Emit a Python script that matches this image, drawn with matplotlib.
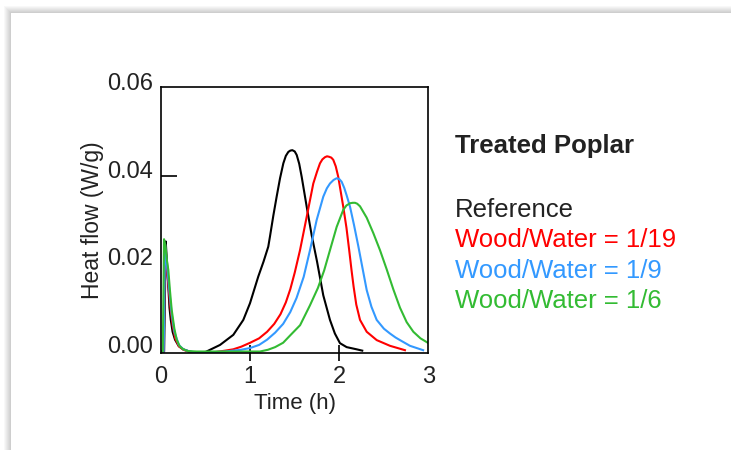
import numpy as np
import matplotlib
matplotlib.use("Agg")
import matplotlib.pyplot as plt
from matplotlib.transforms import ScaledTranslation

plt.rcParams['font.family'] = ['Liberation Sans', 'DejaVu Sans']

# data (time in h, heat flow in W/g)
ref_t = [0.0, 0.035, 0.053, 0.068, 0.082, 0.095, 0.109, 0.13, 0.157, 0.2, 0.25, 0.32,
         0.40, 0.50, 0.662, 0.811, 0.923, 0.998, 1.091, 1.15, 1.203, 1.222, 1.26, 1.297,
         1.335, 1.372, 1.40, 1.428, 1.45, 1.473, 1.50, 1.522, 1.55, 1.578, 1.634, 1.69,
         1.75, 1.82, 1.895, 1.95, 2.007, 2.082, 2.194, 2.257]
ref_q = [0.0, 0.0, 0.0251, 0.020, 0.0148, 0.010, 0.0073, 0.0045, 0.0027, 0.0012, 0.0005, 0.0,
         -0.0003, -0.0001, 0.0015, 0.0038, 0.0072, 0.011, 0.0171, 0.0205, 0.0239, 0.0262,
         0.031, 0.0353, 0.0395, 0.0429, 0.0446, 0.0455, 0.0458, 0.0459, 0.0456, 0.0448,
         0.0428, 0.0398, 0.033, 0.0265, 0.0205, 0.0128, 0.0072, 0.0041, 0.0019,
         0.001, 0.0005, 0.0002]

r19_t = [0.0, 0.03, 0.045, 0.06, 0.08, 0.1, 0.13, 0.16, 0.2, 0.25, 0.32, 0.40, 0.50, 0.62,
         0.72, 0.81, 0.9, 1.0, 1.1, 1.19, 1.27, 1.34, 1.40, 1.45, 1.50, 1.559, 1.634, 1.708,
         1.75, 1.783, 1.81, 1.839, 1.862, 1.884, 1.91, 1.932, 1.96, 1.988, 2.044, 2.08,
         2.11, 2.137, 2.16, 2.19, 2.232, 2.307, 2.419, 2.568, 2.736]
r19_q = [0.0, 0.0, 0.0245, 0.020, 0.016, 0.011, 0.006, 0.003, 0.0012, 0.0004, -0.0001,
         -0.0003, -0.0003, -0.0001, 0.0002, 0.0005, 0.0011, 0.002, 0.003, 0.0045, 0.0063,
         0.0085, 0.0112, 0.0142, 0.018, 0.0231, 0.0307, 0.0383, 0.041, 0.0429, 0.0438,
         0.0443, 0.0445, 0.0444, 0.0442, 0.0437, 0.0422, 0.0398, 0.033, 0.0282,
         0.0232, 0.0185, 0.0148, 0.0107, 0.0072, 0.0045, 0.0026, 0.0013, 0.0003]

r9_t = [0.0, 0.03, 0.045, 0.06, 0.08, 0.1, 0.12, 0.15, 0.2, 0.25, 0.32, 0.40, 0.50, 0.62,
        0.72, 0.81, 0.9, 1.0, 1.1, 1.19, 1.28, 1.37, 1.45, 1.52, 1.60, 1.671, 1.746, 1.82,
        1.86, 1.895, 1.935, 1.97, 2.0, 2.026, 2.055, 2.082, 2.12, 2.165, 2.213, 2.26,
        2.307, 2.36, 2.419, 2.5, 2.568, 2.63, 2.68, 2.792, 2.94]
r9_q = [0.0, 0.0, 0.0245, 0.021, 0.017, 0.0125, 0.0085, 0.0045, 0.0015, 0.0005, 0.0,
        -0.0002, -0.0002, -0.0001, 0.0, 0.0002, 0.0004, 0.0008, 0.0015, 0.0027, 0.0043,
        0.0063, 0.009, 0.0122, 0.017, 0.0231, 0.030, 0.0353, 0.0372, 0.0383, 0.0391,
        0.0395, 0.0393, 0.0387, 0.0373, 0.0356, 0.033, 0.0288, 0.024, 0.019, 0.014,
        0.0102, 0.0072, 0.0052, 0.0041, 0.0032, 0.0026, 0.0013, 0.0003]

r6_t = [0.0, 0.02, 0.034, 0.05, 0.065, 0.082, 0.1, 0.12, 0.15, 0.176, 0.21, 0.25, 0.30,
        0.40, 0.55, 0.70, 0.85, 1.0, 1.11, 1.2, 1.28, 1.37, 1.45, 1.56, 1.67, 1.76, 1.83,
        1.895, 1.97, 2.044, 2.08, 2.12, 2.15, 2.176, 2.20, 2.232, 2.307, 2.381, 2.456,
        2.53, 2.605, 2.68, 2.755, 2.83, 2.91, 3.0]
r6_q = [0.0, 0.0, 0.0256, 0.024, 0.021, 0.0186, 0.014, 0.0095, 0.0052, 0.0027, 0.0012,
        0.0005, 0.0001, 0.0, 0.0, 0.0, 0.0, 0.0, 0.0, 0.0004, 0.001, 0.002, 0.0037, 0.006,
        0.0105, 0.0145, 0.0185, 0.0231, 0.0284, 0.0323, 0.0333, 0.0338, 0.0339, 0.0339,
        0.0337, 0.0331, 0.0305, 0.027, 0.0231, 0.0188, 0.0142, 0.010, 0.0067, 0.0045,
        0.003, 0.0019]

series = [(ref_t, ref_q, 'black', 'Reference'),
          (r19_t, r19_q, '#ff0000', 'Wood/Water = 1/19'),
          (r9_t, r9_q, '#3399ff', 'Wood/Water = 1/9'),
          (r6_t, r6_q, '#33bb33', 'Wood/Water = 1/6')]

x_ticks = [0, 1, 2, 3]
y_ticks = [0.00, 0.02, 0.04, 0.06]

W, H = 731, 450
fig = plt.figure(figsize=(W / 100, H / 100), dpi=100)

# card with soft shadow at top and left
bg = fig.add_axes([0, 0, 1, 1], zorder=-5)
yy, xx = np.mgrid[0:H, 0:W]
dx = np.clip((11 - xx) / 8.0, 0, 1)
dy = np.clip((13 - yy) / 8.0, 0, 1)
d = np.maximum(dx, dy)
shade = np.where(d > 0, 0.78 + 0.22 * d, 1.0)
shade[(xx < 3) | (yy < 5)] = 1.0
bg.imshow(shade, cmap='gray', vmin=0, vmax=1, aspect='auto', interpolation='bilinear')
bg.axis('off')

ax = fig.add_axes([161 / W, 1 - 353 / H, (428.5 - 161) / W, (353 - 87) / H])
for t, q, c, name in series:
    ax.plot(t, q, color=c, lw=1.5, solid_joinstyle='round')

ax.set_xlim(0, 3)
ax.set_ylim(-0.00034, 0.0603)
ax.set_xticks(x_ticks)
ax.set_xticklabels(['0', '1', '2', '3'])
ax.set_yticks(y_ticks)
ax.set_yticklabels(['0.00', '0.02', '0.04', '0.06'])
for s in ax.spines.values():
    s.set_linewidth(1.2)
ax.tick_params(axis='x', direction='inout', length=11.5, width=1.2, pad=3.5, labelsize=17)
ax.tick_params(axis='y', direction='in', length=11.5, width=1.2, pad=6, labelsize=17)
for i, tk in enumerate(ax.xaxis.get_major_ticks()):
    tk.tick1line.set_visible(i in (1, 2))
    tk.tick2line.set_visible(False)
for i, tk in enumerate(ax.yaxis.get_major_ticks()):
    tk.tick1line.set_visible(i == 2)
    tk.tick2line.set_visible(False)
for lab in ax.get_yticklabels():
    lab.set_color('#222222')
    lab.set_transform(lab.get_transform() + ScaledTranslation(0, 0.07, fig.dpi_scale_trans))
for lab in ax.get_xticklabels():
    lab.set_color('#222222')

ax.set_xlabel('Time (h)', fontsize=16, color='#222222', labelpad=4)
ax.set_ylabel('Heat flow (W/g)', fontsize=16.5, color='#222222', labelpad=2)

# legend as coloured text
fig.text(455 / W, 1 - 153 / H, 'Treated Poplar', fontsize=18.5, fontweight='bold',
         color='#222222', va='baseline')
ys = [217, 247, 278, 308]
for (t, q, c, name), yb in zip(series, ys):
    fig.text(455 / W, 1 - yb / H, name, fontsize=18.5, color='#222222' if c == 'black' else c,
             va='baseline')

fig.savefig('out.png', dpi=100)
